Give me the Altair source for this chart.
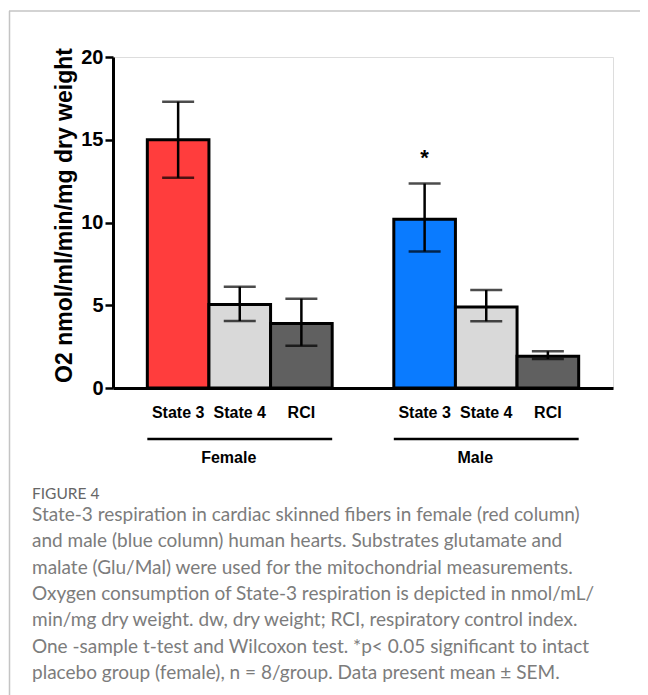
import altair as alt
import pandas as pd

# ---- data ----
slots = ["Female|State 3", "Female|State 4", "Female|RCI", "gap",
         "Male|State 3", "Male|State 4", "Male|RCI"]
bar_slots = ["Female|State 3", "Female|State 4", "Female|RCI",
             "Male|State 3", "Male|State 4", "Male|RCI"]
means = [15.0, 5.05, 3.9, 10.2, 4.9, 1.92]
err_lo = [12.7, 4.05, 2.55, 8.25, 4.03, 1.75]
err_hi = [17.3, 6.12, 5.4, 12.35, 5.92, 2.22]
fills = ["#FF3D3D", "#D9D9D9", "#606060", "#0A7BFF", "#D9D9D9", "#606060"]

groups = ["Female", "Male"]
group_start = ["Female|State 3", "Male|State 3"]
group_end = ["Female|RCI", "Male|RCI"]
group_mid = ["Female|State 4", "Male|State 4"]

sig_slots = ["Male|State 3"]
sig_hi = [12.35]
sig_text = ["*"]

y_ticks = [0, 5, 10, 15, 20]
y_title = "O2 nmol/ml/min/mg dry weight"

caption_head = "FIGURE 4"
caption_lines = [
    "State-3 respiration in cardiac skinned fibers in female (red column)",
    "and male (blue column) human hearts. Substrates glutamate and",
    "malate (Glu/Mal) were used for the mitochondrial measurements.",
    "Oxygen consumption of State-3 respiration is depicted in nmol/mL/",
    "min/mg dry weight. dw, dry weight; RCI, respiratory control index.",
    "One -sample t-test and Wilcoxon test. *p< 0.05 significant to intact",
    "placebo group (female), n = 8/group. Data present mean \u00b1 SEM.",
]

bars = pd.DataFrame({"slot": bar_slots, "mean": means, "lo": err_lo,
                     "hi": err_hi, "fill": fills})
grp = pd.DataFrame({"group": groups, "start": group_start, "end": group_end,
                    "mid": group_mid})
sig = pd.DataFrame({"slot": sig_slots, "hi": sig_hi, "t": sig_text})
cap = pd.DataFrame({"head": [caption_head], "body": ["\n".join(caption_lines)]})

FONT = "Liberation Sans"
LABEL_EXPR = "indexof(datum.value,'|')>=0 ? split(datum.value,'|')[1] : ''"
xscale = alt.Scale(domain=slots, paddingInner=0, paddingOuter=0.557)
yscale = alt.Scale(domain=[0, 20], nice=False)
xaxis = alt.Axis(labelExpr=LABEL_EXPR, title=None)
yaxis = alt.Axis(values=y_ticks, title=y_title, titleY=158)


def X(field, **kw):
    return alt.X(field, scale=xscale, axis=xaxis, title=None, **kw)


def Y(field):
    return alt.Y(field, scale=yscale, axis=yaxis, title=y_title)


base = alt.Chart(bars)

bar_layer = base.mark_bar(stroke="black", strokeWidth=3).encode(
    x=X("slot:N"),
    y=Y("mean:Q"),
    fill=alt.Fill("fill:N", scale=None),
)

err_rule = base.mark_rule(color="black", strokeWidth=2.5).encode(
    x=X("slot:N"), y=Y("lo:Q"), y2="hi:Q",
)
cap_lo = base.mark_tick(color="black", thickness=2.5, size=32).encode(
    x=X("slot:N"), y=Y("lo:Q"),
)
cap_hi = base.mark_tick(color="black", thickness=2.5, size=32).encode(
    x=X("slot:N"), y=Y("hi:Q"),
)

star = alt.Chart(sig).mark_text(font=FONT, fontSize=22, fontWeight="bold",
                                baseline="alphabetic", dx=0, dy=-19).encode(
    x=X("slot:N"), y=Y("hi:Q"), text="t:N",
)

grp_rule = alt.Chart(grp).mark_rule(color="black", strokeWidth=2.5).encode(
    x=X("start:N", bandPosition=0),
    x2=alt.X2("end:N", bandPosition=1),
    y=alt.value(382),
)
grp_text = alt.Chart(grp).mark_text(font=FONT, fontSize=16, fontWeight="bold",
                                    baseline="middle", dx=-11).encode(
    x=X("mid:N"),
    y=alt.value(401),
    text="group:N",
)

frame_v = alt.Chart(cap).mark_rule(color="#C4C4C4", strokeWidth=1.5).encode(
    x=alt.value(-103.5), y=alt.value(-46), y2=alt.value(640))
frame_h = alt.Chart(cap).mark_rule(color="#C4C4C4", strokeWidth=1.5).encode(
    x=alt.value(-104), x2=alt.value(540), y=alt.value(-46))

cap_head = alt.Chart(cap).mark_text(font="Lato", fontSize=15.5, color="#666666",
                                    align="left", baseline="middle").encode(
    x=alt.value(-81), y=alt.value(437), text="head:N")
cap_body = alt.Chart(cap).mark_text(font="Lato", fontSize=19, color="#7C7C7C",
                                    align="left", baseline="top",
                                    lineBreak="\n", lineHeight=26.3).encode(
    x=alt.value(-81), y=alt.value(449), text="body:N")

chart = alt.layer(bar_layer, err_rule, cap_lo, cap_hi, star, grp_rule,
                  grp_text, frame_v, frame_h, cap_head, cap_body).properties(
    width=500, height=331,
    padding={"left": 105, "top": 49, "right": 27, "bottom": 307},
    autosize=alt.AutoSizeParams(type="none"),
).configure_view(stroke=None).configure(background="white").configure_axisX(
    labelAngle=0, labelFont=FONT, labelFontSize=16, labelFontWeight="bold",
    labelColor="black", labelPadding=16, ticks=False, domainWidth=3,
    domainColor="black", grid=False,
).configure_axisY(
    grid=False, labelFont=FONT, labelFontSize=20, labelFontWeight="bold",
    labelColor="black", labelPadding=2, tickSize=8, tickWidth=2.5,
    tickColor="black", domainWidth=3, domainColor="black", titleFont=FONT,
    titleFontSize=23, titleFontWeight="bold", titleColor="black",
    titlePadding=4,
)

chart.save("out.html", embed_options={"renderer": "svg", "actions": False})
